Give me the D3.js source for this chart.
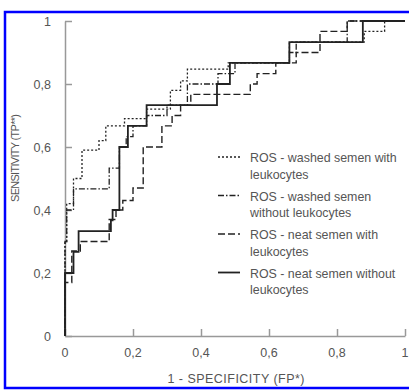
<!DOCTYPE html>
<html>
<head>
<meta charset="utf-8">
<script src="https://cdn.jsdelivr.net/npm/d3@7"></script>
<style>
  body { margin: 0; background: #fff; }
  svg text { font-family: "Liberation Sans", Arial, sans-serif; fill: #555; }
</style>
</head>
<body>
<div id="chart"></div>
<script>
// ROC curves (step points: fp where sensitivity jumps, new tp)
const washedWithFp  = [0, 0, 0.005, 0.025, 0.05, 0.1, 0.12, 0.175, 0.24, 0.31, 0.34, 0.36, 0.48, 0.66, 0.88, 0.94, 1];
const washedWithTp  = [0, 0.3, 0.42, 0.5, 0.59, 0.62, 0.667, 0.69, 0.72, 0.78, 0.81, 0.847, 0.867, 0.933, 0.967, 1, 1];

const washedWithoutFp = [0, 0, 0.005, 0.025, 0.13, 0.16, 0.18, 0.2, 0.24, 0.3, 0.36, 0.45, 0.5, 0.66, 0.68, 0.83, 1];
const washedWithoutTp = [0, 0.3, 0.4, 0.467, 0.533, 0.6, 0.633, 0.667, 0.7, 0.733, 0.8, 0.833, 0.867, 0.9, 0.933, 1, 1];

const neatWithFp = [0, 0, 0.02, 0.045, 0.13, 0.15, 0.17, 0.2, 0.23, 0.285, 0.315, 0.34, 0.37, 0.545, 0.565, 0.62, 0.68, 0.75, 0.83, 1];
const neatWithTp = [0, 0.17, 0.27, 0.3, 0.37, 0.4, 0.43, 0.47, 0.6, 0.667, 0.7, 0.733, 0.767, 0.8, 0.833, 0.867, 0.9, 0.967, 1, 1];

const neatWithoutFp = [0, 0, 0.025, 0.04, 0.135, 0.14, 0.16, 0.185, 0.24, 0.447, 0.485, 0.66, 0.876, 1];
const neatWithoutTp = [0, 0.2, 0.267, 0.333, 0.367, 0.4, 0.6, 0.667, 0.733, 0.8, 0.867, 0.933, 1, 1];

const tickValues = [0, 0.2, 0.4, 0.6, 0.8, 1];
const tickLabels = ['0', '0,2', '0,4', '0,6', '0,8', '1'];

const series = [
  { label: ['ROS - washed semen with', 'leukocytes'], fp: washedWithFp, tp: washedWithTp, dash: '2,2', width: 1.3 },
  { label: ['ROS - washed semen', 'without leukocytes'], fp: washedWithoutFp, tp: washedWithoutTp, dash: '6,2,1.5,2', width: 1.3 },
  { label: ['ROS - neat semen with', 'leukocytes'], fp: neatWithFp, tp: neatWithTp, dash: '7,3', width: 1.4 },
  { label: ['ROS - neat semen without', 'leukocytes'], fp: neatWithoutFp, tp: neatWithoutTp, dash: null, width: 1.8 }
];

const width = 409, height = 392;
const svg = d3.select('#chart').append('svg')
  .attr('width', width)
  .attr('height', height);

// blue frame
svg.append('rect')
  .attr('x', 5).attr('y', 12)
  .attr('width', 420).attr('height', 376)
  .attr('fill', 'none')
  .attr('stroke', '#0000ff')
  .attr('stroke-width', 2.5);

const x = d3.scaleLinear().domain([0, 1]).range([65, 405]);
const y = d3.scaleLinear().domain([0, 1]).range([336, 21]);

const fmt = d => tickLabels[tickValues.indexOf(d)];

const xAxis = svg.append('g')
  .attr('transform', `translate(0,${y(0)})`)
  .call(d3.axisTop(x).tickValues(tickValues).tickFormat('').tickSize(7).tickSizeOuter(0));
xAxis.selectAll('line, path').attr('stroke', '#999').attr('stroke-width', 1.5);

svg.append('g').selectAll('text')
  .data(tickValues)
  .join('text')
  .attr('x', d => x(d))
  .attr('y', 357)
  .attr('text-anchor', 'middle')
  .attr('font-size', 12.5)
  .text(fmt);

const yAxis = svg.append('g')
  .attr('transform', `translate(${x(0)},0)`)
  .call(d3.axisRight(y).tickValues(tickValues).tickFormat('').tickSize(7).tickSizeOuter(0));
yAxis.selectAll('line, path').attr('stroke', '#999').attr('stroke-width', 1.5);

svg.append('g').selectAll('text')
  .data(tickValues)
  .join('text')
  .attr('x', 51)
  .attr('y', d => y(d) + 5)
  .attr('text-anchor', 'end')
  .attr('font-size', 12.5)
  .text(fmt);

// axis titles
svg.append('text')
  .attr('x', 236).attr('y', 383)
  .attr('text-anchor', 'middle')
  .attr('font-size', 12.5)
  .attr('textLength', 137)
  .text('1 - SPECIFICITY (FP*)');

svg.append('text')
  .attr('transform', 'translate(19,158) rotate(-90)')
  .attr('text-anchor', 'middle')
  .attr('font-size', 11)
  .attr('textLength', 88)
  .text('SENSITIVITY (TP**)');

// curves
const line = d3.line()
  .x(d => x(d[0]))
  .y(d => y(d[1]))
  .curve(d3.curveStepAfter);

svg.append('g').selectAll('path')
  .data(series)
  .join('path')
  .attr('d', s => line(s.fp.map((f, i) => [f, s.tp[i]])))
  .attr('fill', 'none')
  .attr('stroke', '#222')
  .attr('stroke-width', s => s.width)
  .attr('stroke-dasharray', s => s.dash);

// legend
const legend = svg.append('g').selectAll('g')
  .data(series)
  .join('g')
  .attr('transform', (d, i) => `translate(218,${162 + i * 38.5})`);

legend.append('line')
  .attr('x1', 0).attr('x2', 22)
  .attr('y1', -5).attr('y2', -5)
  .attr('stroke', '#222')
  .attr('stroke-width', s => s.width)
  .attr('stroke-dasharray', s => s.dash);

legend.append('text')
  .attr('x', 32)
  .attr('font-size', 12.4)
  .selectAll('tspan')
  .data(s => s.label)
  .join('tspan')
  .attr('x', 32)
  .attr('dy', (d, i) => i === 0 ? 0 : 16.5)
  .text(d => d);
</script>
</body>
</html>
